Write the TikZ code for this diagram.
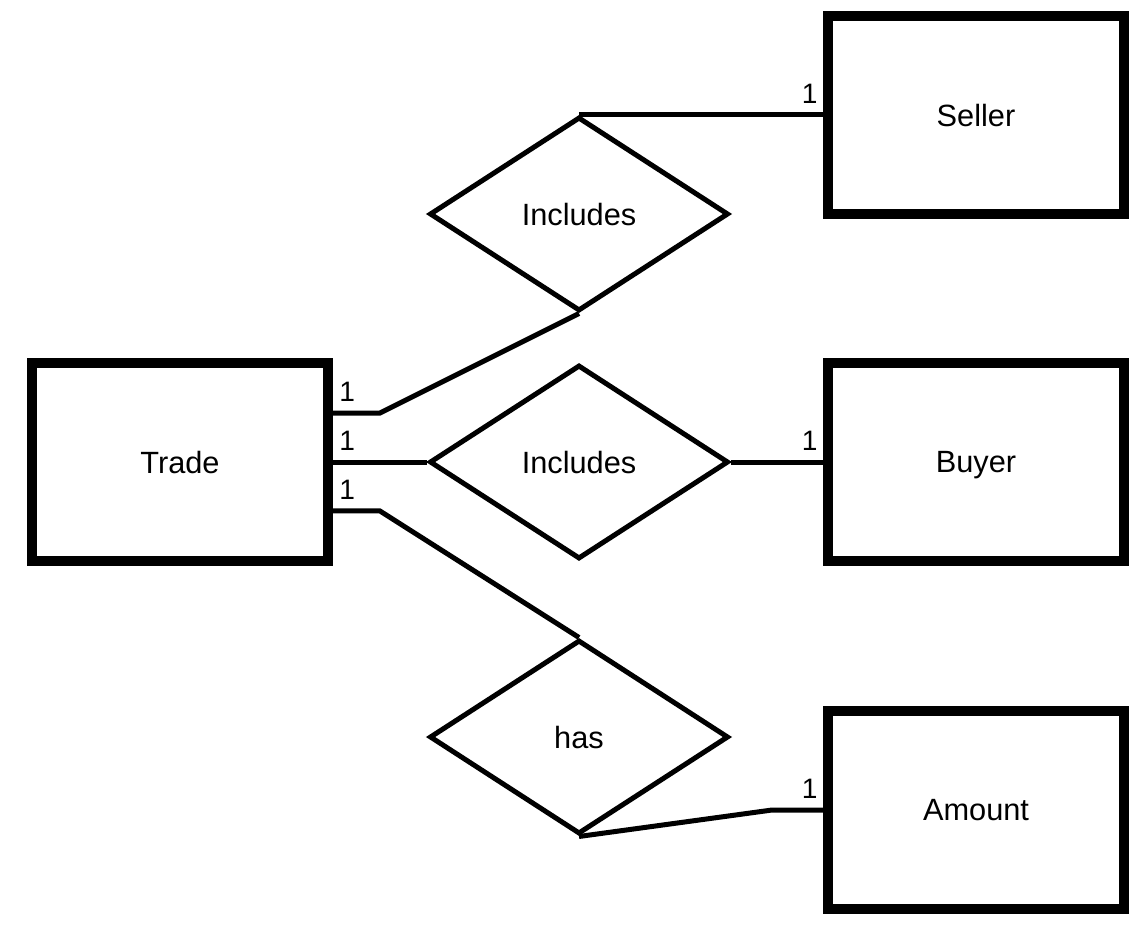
\documentclass[tikz,border=0pt]{standalone}
\usepackage{fontspec}
\setmainfont{Liberation Sans}
\usepackage{tikz}
\usetikzlibrary{shapes.geometric}
\usetikzlibrary{positioning}

\begin{document}
\begin{tikzpicture}[x=0.02cm, y=-0.02cm,
entity/.style={draw, line width=0.2cm, minimum width=5.92cm, minimum height=3.96cm,
    text depth=0pt, font=\fontsize{17.5}{21}\selectfont},
relation/.style={draw, diamond, aspect=1.54, line width=0.1cm, inner sep=0pt,
    minimum width=5.98cm, minimum height=3.88cm, text depth=0pt,
    font=\fontsize{17.5}{21}\selectfont},
link/.style={black, line width=0.1cm},
card/.style={inner sep=0pt, font=\fontsize{16}{16}\selectfont}]

\useasboundingbox (0,0) rectangle (1141,929);
\def\off{0.98cm}

% ENTITIES
\node[entity] (trade) at (180,462) {Trade};
\node[entity] (seller) at (976,115) {Seller};
\node[entity] (buyer) at (976,462) {Buyer};
\node[entity] (amount) at (976,810) {Amount};

% RELATIONS
\node[relation] (inc1) at (579,214) {Includes};
\node[relation] (inc2) at (579,462) {Includes};
\node[relation] (has) at (579,737) {has};

% trade -- seller
\draw[link] ([yshift=\off]trade.east) node[card, above right=0.18cm and 0.08cm] {1}
    -- ++(47,0) -- (inc1.south);
\draw[link] (inc1.north) -- (inc1.north -| seller.west)
    node[card, above left=0.18cm and 0.06cm] {1};

% trade -- buyer
\draw[link] (trade.east) node[card, above right=0.18cm and 0.08cm] {1} -- (inc2.west);
\draw[link] (inc2.east) -- (buyer.west) node[card, above left=0.18cm and 0.06cm] {1};

% trade -- amount
\draw[link] ([yshift=-\off]trade.east) node[card, above right=0.18cm and 0.08cm] {1}
    -- ++(47,0) -- (has.north);
\draw[link] (has.south) -- ([xshift=-1.02cm]amount.west) -- (amount.west)
    node[card, above left=0.18cm and 0.06cm] {1};

\end{tikzpicture}
\end{document}
